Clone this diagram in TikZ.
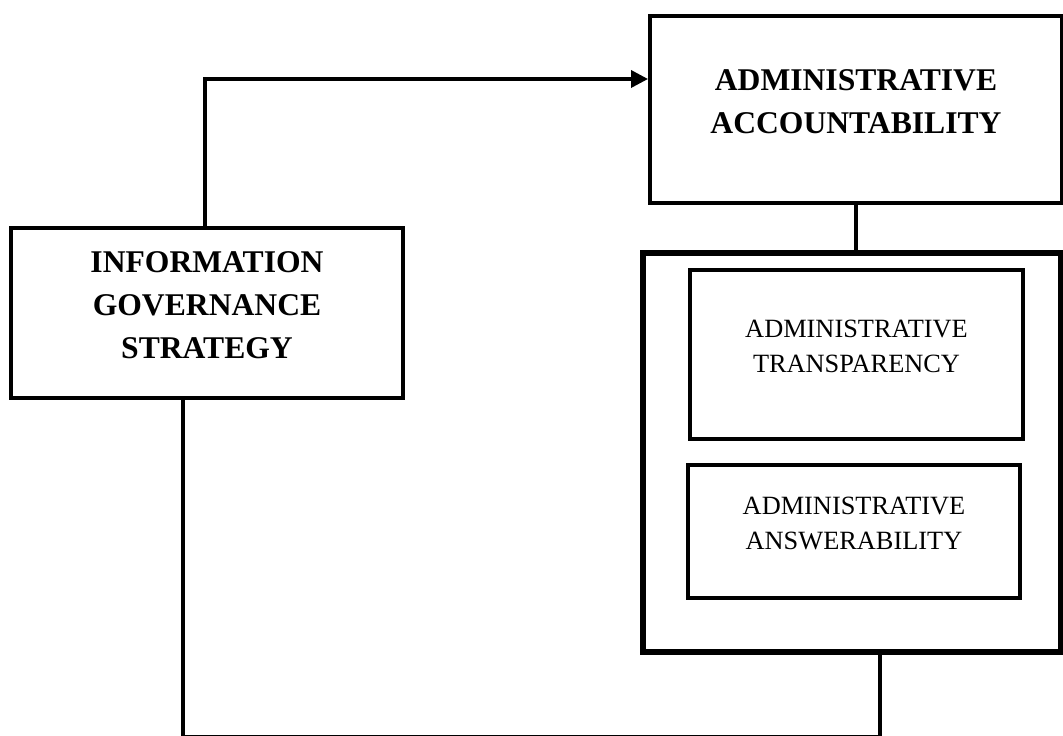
\documentclass[tikz,border=0pt]{standalone}
\usepackage{fontspec}
\setmainfont{Liberation Serif}
\usepackage{tikz}
\usetikzlibrary{arrows.meta}
\newlength{\BoxLW}
\setlength{\BoxLW}{2.3pt}
\newcommand{\bigfont}{\fontsize{18}{24.5}\selectfont\bfseries}
\newcommand{\smallfont}{\fontsize{15}{20}\selectfont}
\tikzset{
  box/.style={rectangle, draw, line width=\BoxLW, align=center,
    inner sep=0pt, text depth=0.32cm},
  frame/.style={rectangle, draw, line width=3.1pt, inner sep=0pt},
  link/.style={line width=2pt},
}

\begin{document}
\begin{tikzpicture}[x=0.02cm, y=-0.02cm]
\useasboundingbox (0,0) rectangle (1063,736);

% --- BOXES ---
\node[box, font=\bigfont, minimum width=7.84cm, minimum height=3.4cm]
  (strat) at (207,313) {INFORMATION\\GOVERNANCE\\STRATEGY};
\node[box, font=\bigfont, minimum width=8.24cm, minimum height=3.74cm]
  (acc) at (856,109.5) {ADMINISTRATIVE\\ACCOUNTABILITY};
\node[frame, minimum width=8.36cm, minimum height=7.98cm]
  (group) at (852,452.5) {};
\node[box, font=\smallfont, minimum width=6.66cm, minimum height=3.38cm]
  (transp) at (856.5,354.5) {ADMINISTRATIVE\\TRANSPARENCY};
\node[box, font=\smallfont, minimum width=6.64cm, minimum height=2.66cm]
  (answer) at (854,531.5) {ADMINISTRATIVE\\ANSWERABILITY};

% --- CONNECTORS ---
\coordinate (accIn) at (acc.west |- 0,79);
\draw[link, -{Triangle[length=0.34cm, width=0.34cm]}]
  ([xshift=-0.04cm]strat.north) |- (accIn);
\draw[link] (acc.south) -- (acc.south |- group.north);
\coordinate (bend) at (183,736.5);
\draw[link] (strat.south -| bend) -- (bend) -| ([xshift=0.56cm]group.south);

\end{tikzpicture}
\end{document}
